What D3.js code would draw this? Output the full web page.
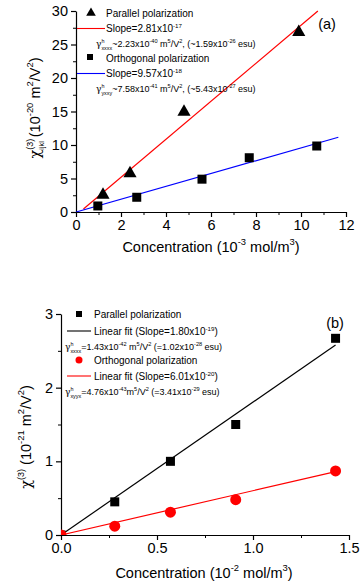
<!DOCTYPE html>
<html><head><meta charset="utf-8">
<script src="https://cdn.jsdelivr.net/npm/d3@7"></script>
<style>
body{margin:0;background:#fff;}
svg{display:block;font-family:Arial,"Liberation Sans",sans-serif;}
</style></head><body>
<svg id="c" width="363" height="584"></svg>
<script>
// ---- Panel (a) data ----
const aXTicks = [0, 2, 4, 6, 8, 10, 12];
const aYTicks = [0, 5, 10, 15, 20, 25, 30];
const aParX = [1.2, 2.4, 4.8, 9.9];
const aParY = [2.7, 5.9, 15.1, 27.0];
const aOrtX = [0.97, 2.7, 5.6, 7.7, 10.7];
const aOrtY = [0.9, 2.2, 4.9, 8.1, 9.85];
const aParFitX = [0.33, 10.75];
const aParFitY = [0.45, 30];
const aOrtFitX = [0, 11.66];
const aOrtFitY = [0, 11.16];
// ---- Panel (b) data ----
const bXTicks = [0, 0.5, 1.0, 1.5];
const bYTicks = [0, 1, 2, 3];
const bParX = [0, 0.28, 0.57, 0.91, 1.43];
const bParY = [0, 0.45, 1.0, 1.5, 2.67];
const bOrtX = [0, 0.28, 0.57, 0.91, 1.43];
const bOrtY = [0, 0.12, 0.31, 0.48, 0.87];
const bParFitX = [0, 1.43];
const bParFitY = [0, 2.58];
const bOrtFitX = [0, 1.43];
const bOrtFitY = [0, 0.86];

const svg = d3.select('#c');

function rich(g, x, y, parts, fs, opts) {
  opts = opts || {};
  const t = g.append('text').attr('x', x).attr('y', y).attr('font-size', fs)
    .attr('text-anchor', opts.anchor || 'start').attr('fill', '#000');
  if (opts.rotate) t.attr('transform', `rotate(-90,${x},${y})`);
  let cur = 0;
  parts.forEach(p => {
    const s = p[0], k = p[1];
    const sfs = fs * (p[2] || 0.62);
    const off = k === 'sup' ? -0.45 * fs : (k === 'sub' ? 0.3 * fs : 0);
    const ts = t.append('tspan').attr('dy', off - cur).text(s);
    if (k) ts.attr('font-size', sfs);
    if (p[3]) ts.attr('dx', p[3]);
    if (p[4]) ts.attr('font-family', p[4]);
    cur = off;
  });
  return t;
}

function panel(cfg) {
  const x = d3.scaleLinear().domain(cfg.xd).range(cfg.xr);
  const y = d3.scaleLinear().domain(cfg.yd).range(cfg.yr);
  const g = svg.append('g');
  g.append('g').attr('transform', `translate(0,${cfg.yr[0]})`)
    .call(d3.axisBottom(x).tickValues(cfg.xMinor).tickSize(3).tickFormat(''))
    .call(s => s.select('.domain').remove());
  g.append('g').attr('transform', `translate(${cfg.xr[0]},0)`)
    .call(d3.axisLeft(y).tickValues(cfg.yMinor).tickSize(3).tickFormat(''))
    .call(s => s.select('.domain').remove());
  const xa = g.append('g').attr('transform', `translate(0,${cfg.yr[0]})`)
    .call(d3.axisBottom(x).tickValues(cfg.xTicks).tickSize(5).tickSizeOuter(0).tickPadding(3).tickFormat(cfg.xFmt));
  const ya = g.append('g').attr('transform', `translate(${cfg.xr[0]},0)`)
    .call(d3.axisLeft(y).tickValues(cfg.yTicks).tickSize(5).tickSizeOuter(0).tickPadding(3).tickFormat(d3.format('d')));
  [xa, ya].forEach(a => {
    a.selectAll('text').attr('font-size', 14.5).attr('font-family', 'Arial,"Liberation Sans",sans-serif').attr('fill', '#000');
    a.selectAll('line,path').attr('stroke', '#000').attr('stroke-width', 1.2);
  });
  g.selectAll('line').attr('stroke', '#000');
  const clipId = 'clip' + cfg.id;
  svg.append('clipPath').attr('id', clipId).append('rect')
    .attr('x', cfg.xr[0]).attr('y', cfg.yr[1] - 10).attr('width', cfg.xr[1] - cfg.xr[0] + 10).attr('height', cfg.yr[0] - cfg.yr[1] + 10);
  const plot = g.append('g').attr('clip-path', `url(#${clipId})`);
  return {x, y, g, plot};
}

function fitLine(p, xs, ys, color) {
  const line = d3.line().x(d => p.x(d[0])).y(d => p.y(d[1]));
  p.plot.append('path').datum(xs.map((v, i) => [v, ys[i]]))
    .attr('d', line).attr('fill', 'none').attr('stroke', color).attr('stroke-width', 1.2);
}
function squares(p, xs, ys, color, sz) {
  p.plot.selectAll(null).data(xs.map((v, i) => [v, ys[i]])).enter().append('rect')
    .attr('x', d => p.x(d[0]) - sz / 2).attr('y', d => p.y(d[1]) - sz / 2)
    .attr('width', sz).attr('height', sz).attr('fill', color);
}
function triangles(p, xs, ys, color) {
  const sym = d3.symbol().type(d3.symbolTriangle).size(75);
  p.plot.selectAll(null).data(xs.map((v, i) => [v, ys[i]])).enter().append('path')
    .attr('d', sym).attr('transform', d => `translate(${p.x(d[0])},${p.y(d[1]) + 1})`).attr('fill', color);
}
function circles(p, xs, ys, color, r) {
  p.plot.selectAll(null).data(xs.map((v, i) => [v, ys[i]])).enter().append('circle')
    .attr('cx', d => p.x(d[0])).attr('cy', d => p.y(d[1])).attr('r', r).attr('fill', color);
}

const GREEK = '"DejaVu Serif", serif';

// ===== Panel (a) =====
const A = panel({id: 'a', xd: [0, 12], yd: [0, 30], xr: [76, 346], yr: [212, 11],
  xTicks: aXTicks, yTicks: aYTicks,
  xMinor: [1, 3, 5, 7, 9, 11], yMinor: [2.5, 7.5, 12.5, 17.5, 22.5, 27.5],
  xFmt: d3.format('d')});
fitLine(A, aParFitX, aParFitY, '#ff0000');
fitLine(A, aOrtFitX, aOrtFitY, '#0000ff');
triangles(A, aParX, aParY, '#000');
squares(A, aOrtX, aOrtY, '#000', 9);

const LA = svg.append('g');
LA.append('path').attr('d', d3.symbol().type(d3.symbolTriangle).size(40)())
  .attr('transform', 'translate(91,13)').attr('fill', '#000');
rich(LA, 106, 16.5, [['Parallel polarization']], 10);
LA.append('line').attr('x1', 77).attr('x2', 105).attr('y1', 28.5).attr('y2', 28.5).attr('stroke', '#ff0000').attr('stroke-width', 1.1);
rich(LA, 106, 32, [['Slope=2.81x10'], ['-17', 'sup']], 10);
rich(LA, 96, 47, [['γ', null, 0, 0, GREEK], ['h', 'sup', 0.6], ['xxxx', 'sub', 0.6, -3], ['~2.23x10'], ['-40', 'sup'], [' m'], ['5', 'sup'], ['/V'], ['2', 'sup'], [', (~1.59x10'], ['-26', 'sup'], [' esu)']], 9);
LA.append('rect').attr('x', 87).attr('y', 54).attr('width', 6).attr('height', 6).attr('fill', '#000');
rich(LA, 106, 61.5, [['Orthogonal polarization']], 10);
LA.append('line').attr('x1', 77).attr('x2', 105).attr('y1', 73.5).attr('y2', 73.5).attr('stroke', '#0000ff').attr('stroke-width', 1.1);
rich(LA, 106, 77, [['Slope=9.57x10'], ['-18', 'sup']], 10);
rich(LA, 96, 92, [['γ', null, 0, 0, GREEK], ['h', 'sup', 0.6], ['yxxy', 'sub', 0.6, -3], ['~7.58x10'], ['-41', 'sup'], [' m'], ['5', 'sup'], ['/V'], ['2', 'sup'], [', (~5.43x10'], ['-27', 'sup'], [' esu)']], 9);
svg.append('text').attr('x', 327).attr('y', 29).attr('text-anchor', 'middle').attr('font-size', 14.5).text('(a)');

rich(svg, 211, 252, [['Concentration (10'], ['-3', 'sup', 0.65], [' mol/m'], ['3', 'sup', 0.65], [')']], 14.5, {anchor: 'middle'});
rich(svg, 40, 108, [['χ', null, 0, 0, GREEK], ['(3)', 'sup', 0.62], ['ijkl', 'sub', 0.5, -11], [' (10'], ['-20', 'sup', 0.65], [' m'], ['2', 'sup', 0.65], ['/V'], ['2', 'sup', 0.65], [')']], 14.5, {anchor: 'middle', rotate: true});

// ===== Panel (b) =====
const B = panel({id: 'b', xd: [0, 1.5], yd: [0, 3], xr: [61, 349], yr: [535, 314],
  xTicks: bXTicks, yTicks: bYTicks,
  xMinor: [0.25, 0.75, 1.25], yMinor: [0.5, 1.5, 2.5],
  xFmt: d3.format('.1f')});
fitLine(B, bParFitX, bParFitY, '#000');
fitLine(B, bOrtFitX, bOrtFitY, '#ff0000');
squares(B, bParX, bParY, '#000', 9);
circles(B, bOrtX, bOrtY, '#ff0000', 5.5);

const LB = svg.append('g');
LB.append('rect').attr('x', 76).attr('y', 311).attr('width', 6).attr('height', 6).attr('fill', '#000');
rich(LB, 94, 318, [['Parallel polarization']], 10);
LB.append('line').attr('x1', 67).attr('x2', 91).attr('y1', 331).attr('y2', 331).attr('stroke', '#000').attr('stroke-width', 1.1);
rich(LB, 94, 335, [['Linear fit (Slope=1.80x10'], ['-19', 'sup'], [')']], 10);
rich(LB, 65, 350, [['γ', null, 0, 0, GREEK], ['h', 'sup', 0.6], ['xxxx', 'sub', 0.6, -3], ['=1.43x10'], ['-42', 'sup'], [' m'], ['5', 'sup'], ['/V'], ['2', 'sup'], [' (=1.02x10'], ['-28', 'sup'], [' esu)']], 9);
LB.append('circle').attr('cx', 79).attr('cy', 360).attr('r', 3.5).attr('fill', '#ff0000');
rich(LB, 94, 364, [['Orthogonal polarization']], 10);
LB.append('line').attr('x1', 67).attr('x2', 91).attr('y1', 376).attr('y2', 376).attr('stroke', '#ff0000').attr('stroke-width', 1.1);
rich(LB, 94, 380, [['Linear fit (Slope=6.01x10'], ['-20', 'sup'], [')']], 10);
rich(LB, 65, 395, [['γ', null, 0, 0, GREEK], ['h', 'sup', 0.6], ['xyyx', 'sub', 0.6, -3], ['=4.76x10'], ['-43', 'sup'], ['m'], ['5', 'sup'], ['/V'], ['2', 'sup'], [' (=3.41x10'], ['-29', 'sup'], [' esu)']], 9);
svg.append('text').attr('x', 335).attr('y', 328).attr('text-anchor', 'middle').attr('font-size', 14.5).text('(b)');

rich(svg, 204, 578, [['Concentration (10'], ['-2', 'sup', 0.65], [' mol/m'], ['3', 'sup', 0.65], [')']], 14.5, {anchor: 'middle'});
rich(svg, 31, 437, [['χ', null, 0, 0, GREEK], ['(3)', 'sup', 0.62], [' (10'], ['-21', 'sup', 0.65], [' m'], ['2', 'sup', 0.65], ['/V'], ['2', 'sup', 0.65], [')']], 14.5, {anchor: 'middle', rotate: true});
</script>
</body></html>
